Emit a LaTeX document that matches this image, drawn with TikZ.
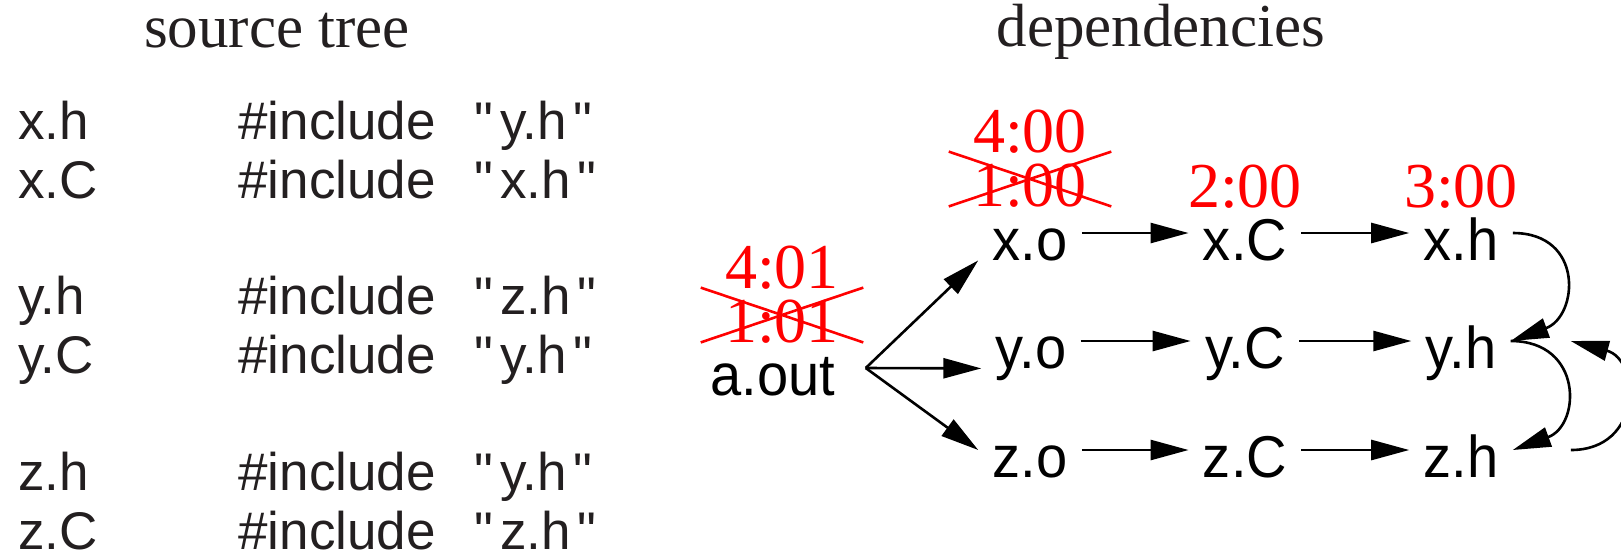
\documentclass[tikz,border=0pt]{standalone}
\usepackage{fontspec}
\setmainfont{Liberation Serif}
\newfontfamily\listfont[Ligatures=TeXOff]{Liberation Sans}
\newfontfamily\graphfont[FakeStretch=0.95]{Liberation Sans}
\usetikzlibrary{arrows.meta}
\definecolor{ink}{HTML}{231F20}
% quoted file name, set with a little air inside the quotes
\newcommand{\qname}[1]{"\kern3.5pt #1\kern3.5pt"}
\begin{document}
\begin{tikzpicture}[x=0.5pt,y=-0.5pt,
  title/.style={font=\fontsize{30.5}{32}\selectfont, text=ink, anchor=base, inner sep=0pt},
  listing/.style={font=\listfont\fontsize{26.5}{28}\selectfont, text=ink, anchor=base west, inner sep=0pt},
  file/.style={font=\graphfont\fontsize{29.5}{31}\selectfont, anchor=base,
    text height=27pt, text depth=0pt, inner xsep=7pt, inner ysep=0pt},
  stamp/.style={font=\fontsize{32}{34}\selectfont, text=red, anchor=base, inner sep=0pt},
  struck/.style={text height=27pt, text depth=0pt, inner xsep=12pt, inner ysep=0pt},
  cross/.style={draw=red, line width=1.3pt},
  link/.style={draw, line width=1.3pt, -{Triangle[length=19pt,width=10pt]}},
  loop/.style={link, looseness=1.7}]
\useasboundingbox (0,0) rectangle (1621,553);

% headings
\node[title] (srctitle) at (277,47) {source tree};
\node[title] (deptitle) at (1161,46) {dependencies};

% source listing
\node[listing] (f1) at (18,139) {x.h};
\node[listing] (i1) at (238,139) {\#include};
\node[listing] (q1) at (474,139) {\qname{y.h}};
\node[listing] (f2) at (18,198) {x.C};
\node[listing] (i2) at (238,198) {\#include};
\node[listing] (q2) at (474,198) {\qname{x.h}};
\node[listing] (f3) at (18,314) {y.h};
\node[listing] (i3) at (238,314) {\#include};
\node[listing] (q3) at (474,314) {\qname{z.h}};
\node[listing] (f4) at (18,373) {y.C};
\node[listing] (i4) at (238,373) {\#include};
\node[listing] (q4) at (474,373) {\qname{y.h}};
\node[listing] (f5) at (18,490) {z.h};
\node[listing] (i5) at (238,490) {\#include};
\node[listing] (q5) at (474,490) {\qname{y.h}};
\node[listing] (f6) at (18,549) {z.C};
\node[listing] (i6) at (238,549) {\#include};
\node[listing] (q6) at (474,549) {\qname{z.h}};

% dependency graph
\node[file] (aout) at (773,395) {a.out};
\node[file] (xo) at (1030,260) {x.o};
\node[file] (yo) at (1031,368) {y.o};
\node[file] (zo) at (1030,477) {z.o};
\node[file] (xC) at (1245,260) {x.C};
\node[file] (yC) at (1245,368) {y.C};
\node[file] (zC) at (1245,477) {z.C};
\node[file] (xh) at (1461,260) {x.h};
\node[file] (yh) at (1461,368) {y.h};
\node[file] (zh) at (1461,477) {z.h};

% timestamps
\node[stamp] (anew) at (782,288) {4:01};
\node[stamp, struck] (aold) at (782,342) {1:01};
\node[stamp] (xnew) at (1030,152) {4:00};
\node[stamp, struck] (xold) at (1030,206) {1:00};
\node[stamp] (cstamp) at (1245,207) {2:00};
\node[stamp] (hstamp) at (1461,207) {3:00};
\draw[cross] (aold.north west) -- (aold.south east) (aold.south west) -- (aold.north east);
\draw[cross] (xold.north west) -- (xold.south east) (xold.south west) -- (xold.north east);

% edges
\coordinate (fan) at ([xshift=8pt]aout.east);
\draw[link] (fan) -- (xo.south west);
\draw[link] (fan) -- (yo.south west);
\draw[link] (fan) -- (zo.west);
\draw[link] (xo.east) -- (xC.west);
\draw[link] (yo.east) -- (yC.west);
\draw[link] (zo.east) -- (zC.west);
\draw[link] (xC.east) -- (xh.west);
\draw[link] (yC.east) -- (yh.west);
\draw[link] (zC.east) -- (zh.west);
\draw[loop] (xh.east) to[out=0,in=20] (yh.east);
\draw[loop] (yh.east) to[out=0,in=20] (zh.east);
\coordinate (zhtail) at ([xshift=29pt]zh.east);
\coordinate (yhhead) at ([xshift=30pt]yh.east);
\draw[loop] (zhtail) to[out=0,in=-15] (yhhead);
\end{tikzpicture}
\end{document}
